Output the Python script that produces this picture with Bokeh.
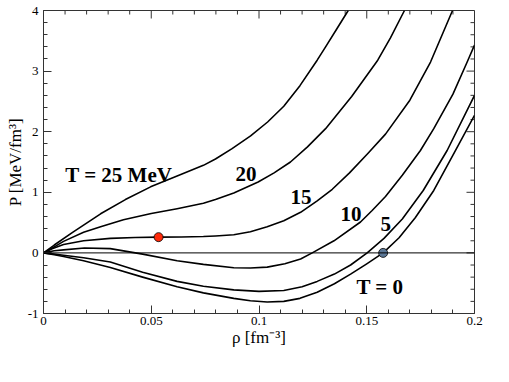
import math
from bokeh.plotting import figure
from bokeh.models import LinearAxis, FixedTicker, Span, ColumnDataSource
from bokeh.core.properties import value
from bokeh.embed import file_html
from bokeh.resources import INLINE

# ---------------- data ----------------
rho_T25 = [0, 0.005, 0.0135, 0.0265, 0.038, 0.0497, 0.062, 0.0742, 0.0798, 0.0875, 0.0961, 0.104, 0.1115, 0.119, 0.127, 0.1309, 0.136, 0.1414]
P_T25 = [0, 0.13, 0.34, 0.645, 0.88, 1.09, 1.27, 1.445, 1.55, 1.72, 1.93, 2.16, 2.42, 2.76, 3.18, 3.40, 3.69, 4.0]

rho_T20 = [0, 0.005, 0.0093, 0.0186, 0.0265, 0.0371, 0.05, 0.062, 0.0742, 0.0798, 0.0883, 0.0996, 0.107, 0.1146, 0.1225, 0.1309, 0.143, 0.1551, 0.161, 0.1675]
P_T20 = [0, 0.10, 0.19, 0.34, 0.43, 0.546, 0.65, 0.73, 0.82, 0.88, 0.99, 1.17, 1.32, 1.50, 1.75, 2.05, 2.58, 3.18, 3.55, 4.0]

rho_T15 = [0, 0.004, 0.0093, 0.0186, 0.031, 0.0425, 0.0534, 0.064, 0.0742, 0.0798, 0.0883, 0.096, 0.1038, 0.1115, 0.1193, 0.127, 0.134, 0.142, 0.1505, 0.1587, 0.170, 0.1796, 0.1898]
P_T15 = [0, 0.07, 0.14, 0.20, 0.24, 0.255, 0.26, 0.262, 0.27, 0.28, 0.30, 0.35, 0.43, 0.53, 0.67, 0.86, 1.05, 1.32, 1.64, 1.96, 2.52, 3.15, 4.0]

rho_T10 = [0, 0.005, 0.0093, 0.019, 0.031, 0.046, 0.062, 0.0742, 0.0883, 0.096, 0.1038, 0.112, 0.1193, 0.1247, 0.1348, 0.1471, 0.1525, 0.1587, 0.1665, 0.1749, 0.1811, 0.190, 0.1966, 0.2]
P_T10 = [0, 0.035, 0.05, 0.08, 0.07, -0.02, -0.13, -0.19, -0.245, -0.25, -0.235, -0.18, -0.10, 0.0, 0.20, 0.51, 0.70, 0.93, 1.28, 1.69, 2.05, 2.62, 3.15, 3.43]

rho_T5 = [0, 0.005, 0.0093, 0.0186, 0.031, 0.046, 0.062, 0.0742, 0.0883, 0.100, 0.1115, 0.120, 0.127, 0.135, 0.1425, 0.1502, 0.158, 0.1665, 0.1762, 0.1873, 0.2]
P_T5 = [0, -0.02, -0.04, -0.08, -0.15, -0.32, -0.47, -0.55, -0.61, -0.635, -0.62, -0.56, -0.47, -0.35, -0.20, 0.0, 0.24, 0.56, 1.03, 1.69, 2.60]

rho_T0 = [0, 0.005, 0.0093, 0.0186, 0.031, 0.046, 0.062, 0.0742, 0.0883, 0.096, 0.1038, 0.1115, 0.119, 0.127, 0.135, 0.1425, 0.150, 0.1576, 0.165, 0.1725, 0.1811, 0.1912, 0.2]
P_T0 = [0, -0.03, -0.06, -0.13, -0.24, -0.40, -0.56, -0.66, -0.75, -0.79, -0.81, -0.80, -0.75, -0.65, -0.51, -0.35, -0.18, 0.0, 0.25, 0.58, 1.03, 1.69, 2.27]

# marked points
red_rho = [0.0534]
red_P = [0.26]
blue_rho = [0.1576]
blue_P = [0.0]

# curve labels
label_text = ["T = 25 MeV", "20", "15", "10", "5", "T = 0"]
label_rho = [0.0101, 0.0891, 0.1146, 0.1378, 0.1564, 0.1452]
label_P = [1.28, 1.30, 0.92, 0.64, 0.47, -0.57]

# axes
x_start, x_end = 0, 0.2
y_start, y_end = -1, 4
x_ticks = [0, 0.05, 0.1, 0.15, 0.2]
x_tick_labels = ["0", "0.05", "0.1", "0.15", "0.2"]
x_minor = [0.01, 0.02, 0.03, 0.04, 0.06, 0.07, 0.08, 0.09, 0.11, 0.12, 0.13, 0.14, 0.16, 0.17, 0.18, 0.19]
y_ticks = [-1, 0, 1, 2, 3, 4]
y_tick_labels = ["-1", "0", "1", "2", "3", "4"]
y_minor = [-0.8, -0.6, -0.4, -0.2, 0.2, 0.4, 0.6, 0.8, 1.2, 1.4, 1.6, 1.8, 2.2, 2.4, 2.6, 2.8, 3.2, 3.4, 3.6, 3.8]

x_label = "ρ [fm⁻³]"
y_label = "P [MeV/fm³]"

# ---------------- figure ----------------
FONT = "'Liberation Serif', serif"
AX = "#333333"
MAJ, MIN = 8, 4

p = figure(width=500, height=372, x_range=(x_start, x_end), y_range=(y_start, y_end),
           output_backend="svg", toolbar_location=None,
           min_border_left=43, min_border_right=26, min_border_top=10, min_border_bottom=59,
           x_axis_location=None, y_axis_location=None)
p.grid.visible = False
p.outline_line_color = AX
p.outline_line_width = 1
p.background_fill_color = "white"
p.border_fill_color = "white"


def style(ax):
    ax.axis_line_color = AX
    ax.major_tick_line_color = AX
    ax.minor_tick_line_color = AX
    ax.major_tick_in = MAJ
    ax.major_tick_out = 0
    ax.minor_tick_in = MIN
    ax.minor_tick_out = 0
    ax.major_label_text_font = FONT
    ax.major_label_text_font_size = "13px"
    ax.major_label_text_color = "black"
    ax.axis_label_text_font = FONT
    ax.axis_label_text_font_style = "normal"
    ax.axis_label_text_color = "black"
    ax.axis_label_text_font_size = "17px"


xb = LinearAxis(ticker=FixedTicker(ticks=x_ticks, minor_ticks=x_minor), axis_label=x_label)
style(xb)
xb.major_label_overrides = dict(zip(x_ticks, x_tick_labels))
xb.major_label_standoff = 3
xb.axis_label_standoff = 0
p.add_layout(xb, "below")

yl = LinearAxis(ticker=FixedTicker(ticks=y_ticks, minor_ticks=y_minor), axis_label=y_label)
style(yl)
yl.major_label_overrides = dict(zip(y_ticks, y_tick_labels))
yl.major_label_standoff = 5
yl.axis_label_standoff = 0
p.add_layout(yl, "left")

# mirrored ticks on the top and right edges (screen-length rays)
p.ray(x=x_ticks, y=[y_end] * len(x_ticks), length=MAJ, length_units="screen",
      angle=-math.pi / 2, line_color=AX, line_width=1)
p.ray(x=x_minor, y=[y_end] * len(x_minor), length=MIN, length_units="screen",
      angle=-math.pi / 2, line_color=AX, line_width=1)
p.ray(x=[x_end] * len(y_ticks), y=y_ticks, length=MAJ, length_units="screen",
      angle=math.pi, line_color=AX, line_width=1)
p.ray(x=[x_end] * len(y_minor), y=y_minor, length=MIN, length_units="screen",
      angle=math.pi, line_color=AX, line_width=1)

# zero line
p.add_layout(Span(location=0, dimension="width", line_color="black", line_width=1))

for r, P in [(rho_T25, P_T25), (rho_T20, P_T20), (rho_T15, P_T15),
             (rho_T10, P_T10), (rho_T5, P_T5), (rho_T0, P_T0)]:
    p.line(r, P, line_color="black", line_width=1.6, line_join="round")

p.scatter(red_rho, red_P, size=9, fill_color="#ff2a0a", line_color="black", line_width=0.8)
p.scatter(blue_rho, blue_P, size=9, fill_color="#5b7796", line_color="black", line_width=0.8)

src = ColumnDataSource(dict(x=label_rho, y=label_P, t=label_text))
p.text(x="x", y="y", text="t", source=src, text_font=value(FONT), text_font_style="bold",
       text_font_size="21px", text_baseline="alphabetic", text_align="left", text_color="black")

open("out.html", "w").write(file_html(p, INLINE))
